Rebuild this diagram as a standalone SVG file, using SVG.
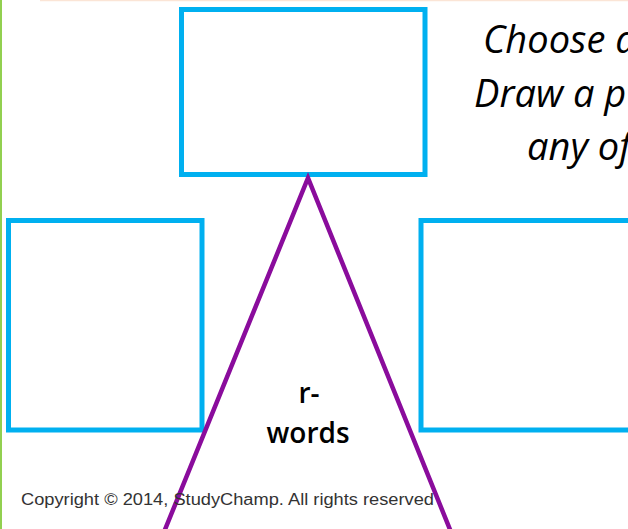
<svg xmlns="http://www.w3.org/2000/svg" width="628" height="529" viewBox="0 0 628 529">
<style>
.box{fill:none;stroke:#00B0F0;stroke-width:5}
.tri{fill:none;stroke:#8A0C9C;stroke-width:4.5;stroke-linecap:butt}
.instr{font-family:"Open Sans","Noto Sans",sans-serif;font-style:italic;font-size:38px;fill:#000}
.lbl{font-family:"Open Sans","Noto Sans",sans-serif;font-size:28px;font-weight:600;fill:#000;text-anchor:middle}
.copy{font-family:"Liberation Sans","Open Sans",sans-serif;font-size:16px;fill:#333}
</style>
<rect width="628" height="529" fill="#fff"/>
<line x1="40" y1="0.5" x2="628" y2="0.5" stroke="#FBE5D6" stroke-width="1.5"/>
<line x1="1" y1="0" x2="1" y2="529" stroke="#92D050" stroke-width="2"/>
<g id="instructions">
<text class="instr" x="483" y="53">Choose a</text>
<text class="instr" x="474" y="107">Draw a p</text>
<text class="instr" x="527" y="160">any of</text>
</g>
<g id="box-top"><rect class="box" x="181.5" y="9.5" width="243.5" height="165"/></g>
<g id="box-left"><rect class="box" x="8.5" y="220.5" width="193.5" height="209.5"/></g>
<g id="box-right"><rect class="box" x="421" y="220.5" width="220" height="209.5"/></g>
<g id="connectors">
<polyline class="tri" points="164,532 308,178 451,532"/>
</g>
<g id="center-label">
<text class="lbl" x="309" y="403">r-</text>
<text class="lbl" x="308" y="443">words</text>
</g>
<text class="copy" x="21" y="505" textLength="413" lengthAdjust="spacingAndGlyphs">Copyright © 2014, StudyChamp. All rights reserved</text>
</svg>
